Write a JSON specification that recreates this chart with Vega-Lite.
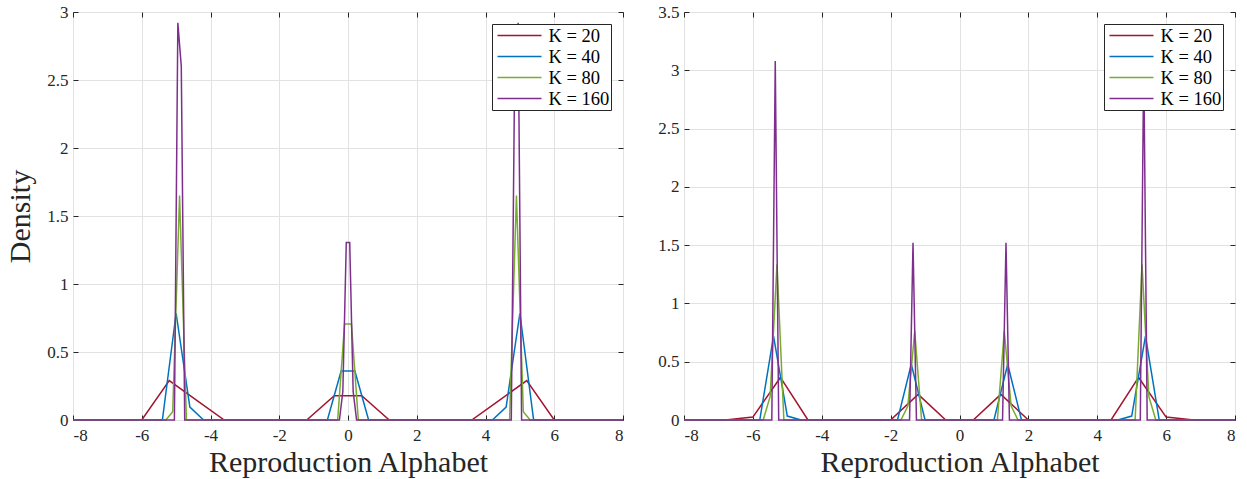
{
  "$schema": "https://vega.github.io/schema/vega-lite/v6.json",
  "background": "white",
  "padding": {"left": 5, "top": 2, "right": 5, "bottom": 5},
  "bounds": "flush",
  "spacing": 61,
  "config": {
    "font": "Liberation Serif",
    "view": {"stroke": "#262626", "strokeWidth": 1},
    "axis": {
      "domain": false,
      "gridColor": "#e2e2e2",
      "gridWidth": 1,
      "tickColor": "#262626",
      "tickSize": -5,
      "tickWidth": 1,
      "labelColor": "#262626",
      "labelFont": "Liberation Serif",
      "labelFontSize": 17,
      "titleFont": "Liberation Serif",
      "titleFontSize": 30,
      "titleFontWeight": "normal",
      "titleColor": "#262626"
    },
    "legend": {
      "orient": "top-right",
      "offset": 12,
      "symbolType": "stroke",
      "symbolSize": 1936,
      "symbolStrokeWidth": 1.5,
      "symbolOffset": 3.5,
      "clipHeight": 21,
      "labelFont": "Liberation Serif",
      "labelFontSize": 18.5,
      "labelColor": "#000000",
      "labelOffset": 6,
      "strokeColor": "#262626",
      "fillColor": "white",
      "padding": 1,
      "rowPadding": 0
    }
  },
  "datasets": {
    "left": [
      {"K": "K = 20", "x": -8, "y": 0}, {"K": "K = 20", "x": -6, "y": 0}, {"K": "K = 20", "x": -5.2, "y": 0.29}, {"K": "K = 20", "x": -4.4, "y": 0.145}, {"K": "K = 20", "x": -3.6, "y": 0},
      {"K": "K = 20", "x": -1.2, "y": 0}, {"K": "K = 20", "x": -0.4, "y": 0.178}, {"K": "K = 20", "x": 0.4, "y": 0.178}, {"K": "K = 20", "x": 1.2, "y": 0},
      {"K": "K = 20", "x": 3.6, "y": 0}, {"K": "K = 20", "x": 4.4, "y": 0.145}, {"K": "K = 20", "x": 5.2, "y": 0.29}, {"K": "K = 20", "x": 6, "y": 0}, {"K": "K = 20", "x": 8, "y": 0},
      {"K": "K = 40", "x": -8, "y": 0}, {"K": "K = 40", "x": -5.4, "y": 0}, {"K": "K = 40", "x": -5.0, "y": 0.785}, {"K": "K = 40", "x": -4.6, "y": 0.095}, {"K": "K = 40", "x": -4.2, "y": 0},
      {"K": "K = 40", "x": -0.6, "y": 0}, {"K": "K = 40", "x": -0.2, "y": 0.36}, {"K": "K = 40", "x": 0.2, "y": 0.36}, {"K": "K = 40", "x": 0.6, "y": 0},
      {"K": "K = 40", "x": 4.2, "y": 0}, {"K": "K = 40", "x": 4.6, "y": 0.095}, {"K": "K = 40", "x": 5.0, "y": 0.785}, {"K": "K = 40", "x": 5.4, "y": 0}, {"K": "K = 40", "x": 8, "y": 0},
      {"K": "K = 80", "x": -8, "y": 0}, {"K": "K = 80", "x": -5.3, "y": 0}, {"K": "K = 80", "x": -5.1, "y": 0.06}, {"K": "K = 80", "x": -4.9, "y": 1.65}, {"K": "K = 80", "x": -4.7, "y": 0},
      {"K": "K = 80", "x": -0.3, "y": 0}, {"K": "K = 80", "x": -0.1, "y": 0.705}, {"K": "K = 80", "x": 0.1, "y": 0.705}, {"K": "K = 80", "x": 0.3, "y": 0},
      {"K": "K = 80", "x": 4.7, "y": 0}, {"K": "K = 80", "x": 4.9, "y": 1.65}, {"K": "K = 80", "x": 5.1, "y": 0.06}, {"K": "K = 80", "x": 5.3, "y": 0}, {"K": "K = 80", "x": 8, "y": 0},
      {"K": "K = 160", "x": -8, "y": 0}, {"K": "K = 160", "x": -5.05, "y": 0}, {"K": "K = 160", "x": -4.95, "y": 2.92}, {"K": "K = 160", "x": -4.85, "y": 2.6}, {"K": "K = 160", "x": -4.75, "y": 0},
      {"K": "K = 160", "x": -0.25, "y": 0}, {"K": "K = 160", "x": -0.15, "y": 0.21}, {"K": "K = 160", "x": -0.05, "y": 1.305}, {"K": "K = 160", "x": 0.05, "y": 1.305}, {"K": "K = 160", "x": 0.15, "y": 0.21}, {"K": "K = 160", "x": 0.25, "y": 0},
      {"K": "K = 160", "x": 4.75, "y": 0}, {"K": "K = 160", "x": 4.85, "y": 2.6}, {"K": "K = 160", "x": 4.95, "y": 2.92}, {"K": "K = 160", "x": 5.05, "y": 0}, {"K": "K = 160", "x": 8, "y": 0}
    ],
    "right": [
      {"K": "K = 20", "x": -8, "y": 0}, {"K": "K = 20", "x": -6.8, "y": 0}, {"K": "K = 20", "x": -6.0, "y": 0.025}, {"K": "K = 20", "x": -5.2, "y": 0.365}, {"K": "K = 20", "x": -4.4, "y": 0},
      {"K": "K = 20", "x": -2.0, "y": 0}, {"K": "K = 20", "x": -1.2, "y": 0.22}, {"K": "K = 20", "x": -0.4, "y": 0}, {"K": "K = 20", "x": 0.4, "y": 0}, {"K": "K = 20", "x": 1.2, "y": 0.22}, {"K": "K = 20", "x": 2.0, "y": 0},
      {"K": "K = 20", "x": 4.4, "y": 0}, {"K": "K = 20", "x": 5.2, "y": 0.365}, {"K": "K = 20", "x": 6.0, "y": 0.025}, {"K": "K = 20", "x": 6.8, "y": 0}, {"K": "K = 20", "x": 8, "y": 0},
      {"K": "K = 40", "x": -8, "y": 0}, {"K": "K = 40", "x": -5.8, "y": 0}, {"K": "K = 40", "x": -5.4, "y": 0.72}, {"K": "K = 40", "x": -5.0, "y": 0.034}, {"K": "K = 40", "x": -4.6, "y": 0},
      {"K": "K = 40", "x": -1.8, "y": 0}, {"K": "K = 40", "x": -1.4, "y": 0.478}, {"K": "K = 40", "x": -1.0, "y": 0}, {"K": "K = 40", "x": 1.0, "y": 0}, {"K": "K = 40", "x": 1.4, "y": 0.478}, {"K": "K = 40", "x": 1.8, "y": 0},
      {"K": "K = 40", "x": 4.6, "y": 0}, {"K": "K = 40", "x": 5.0, "y": 0.034}, {"K": "K = 40", "x": 5.4, "y": 0.72}, {"K": "K = 40", "x": 5.8, "y": 0}, {"K": "K = 40", "x": 8, "y": 0},
      {"K": "K = 80", "x": -8, "y": 0}, {"K": "K = 80", "x": -5.7, "y": 0}, {"K": "K = 80", "x": -5.5, "y": 0.2}, {"K": "K = 80", "x": -5.3, "y": 1.335}, {"K": "K = 80", "x": -5.1, "y": 0},
      {"K": "K = 80", "x": -1.7, "y": 0}, {"K": "K = 80", "x": -1.5, "y": 0.12}, {"K": "K = 80", "x": -1.3, "y": 0.76}, {"K": "K = 80", "x": -1.1, "y": 0}, {"K": "K = 80", "x": 1.1, "y": 0}, {"K": "K = 80", "x": 1.3, "y": 0.76}, {"K": "K = 80", "x": 1.5, "y": 0.12}, {"K": "K = 80", "x": 1.7, "y": 0},
      {"K": "K = 80", "x": 5.1, "y": 0}, {"K": "K = 80", "x": 5.3, "y": 1.335}, {"K": "K = 80", "x": 5.5, "y": 0.2}, {"K": "K = 80", "x": 5.7, "y": 0}, {"K": "K = 80", "x": 8, "y": 0},
      {"K": "K = 160", "x": -8, "y": 0}, {"K": "K = 160", "x": -5.45, "y": 0}, {"K": "K = 160", "x": -5.35, "y": 3.08}, {"K": "K = 160", "x": -5.25, "y": 0},
      {"K": "K = 160", "x": -1.45, "y": 0}, {"K": "K = 160", "x": -1.35, "y": 1.52}, {"K": "K = 160", "x": -1.25, "y": 0}, {"K": "K = 160", "x": 1.25, "y": 0}, {"K": "K = 160", "x": 1.35, "y": 1.52}, {"K": "K = 160", "x": 1.45, "y": 0},
      {"K": "K = 160", "x": 5.25, "y": 0}, {"K": "K = 160", "x": 5.35, "y": 3.08}, {"K": "K = 160", "x": 5.45, "y": 0}, {"K": "K = 160", "x": 8, "y": 0}
    ]
  },
  "resolve": {"scale": {"color": "independent"}, "legend": {"color": "independent"}},
  "hconcat": [
    {
      "width": 550,
      "height": 408,
      "resolve": {"axis": {"x": "independent", "y": "independent"}},
      "layer": [
        {
          "data": {"name": "left"},
          "mark": {"type": "line", "strokeWidth": 1.5},
          "encoding": {
            "x": {"field": "x", "type": "quantitative", "scale": {"domain": [-8, 8], "nice": false, "zero": false},
                  "axis": {"orient": "bottom", "values": [-8, -6, -4, -2, 0, 2, 4, 6, 8], "labelExpr": "'' + datum.value", "labelFont": "Liberation Serif", "labelPadding": 12, "title": "Reproduction Alphabet", "titlePadding": 4}},
            "y": {"field": "y", "type": "quantitative", "scale": {"domain": [0, 3], "nice": false},
                  "axis": {"orient": "left", "values": [0, 0.5, 1, 1.5, 2, 2.5, 3], "labelExpr": "'' + datum.value", "labelFont": "Liberation Serif", "labelPadding": 10, "title": "Density", "titlePadding": 11}},
            "color": {"field": "K", "type": "nominal",
                      "scale": {"domain": ["K = 20", "K = 40", "K = 80", "K = 160"], "range": ["#A2142F", "#0072BD", "#77AC30", "#7E2F8E"]},
                      "legend": {"title": null}}
          }
        },
        {
          "data": {"name": "left"},
          "mark": {"type": "point", "opacity": 0},
          "encoding": {
            "x": {"field": "x", "type": "quantitative", "axis": {"orient": "top", "values": [-8, -6, -4, -2, 0, 2, 4, 6, 8], "labels": false, "grid": false, "title": null}},
            "y": {"field": "y", "type": "quantitative", "axis": {"orient": "right", "values": [0, 0.5, 1, 1.5, 2, 2.5, 3], "labels": false, "grid": false, "title": null}}
          }
        }
      ]
    },
    {
      "width": 551,
      "height": 408,
      "resolve": {"axis": {"x": "independent", "y": "independent"}},
      "layer": [
        {
          "data": {"name": "right"},
          "mark": {"type": "line", "strokeWidth": 1.5},
          "encoding": {
            "x": {"field": "x", "type": "quantitative", "scale": {"domain": [-8, 8], "nice": false, "zero": false},
                  "axis": {"orient": "bottom", "values": [-8, -6, -4, -2, 0, 2, 4, 6, 8], "labelExpr": "'' + datum.value", "labelFont": "Liberation Serif", "labelPadding": 12, "title": "Reproduction Alphabet", "titlePadding": 4}},
            "y": {"field": "y", "type": "quantitative", "scale": {"domain": [0, 3.5], "nice": false},
                  "axis": {"orient": "left", "values": [0, 0.5, 1, 1.5, 2, 2.5, 3, 3.5], "labelExpr": "'' + datum.value", "labelFont": "Liberation Serif", "labelPadding": 10, "title": null}},
            "color": {"field": "K", "type": "nominal",
                      "scale": {"domain": ["K = 20", "K = 40", "K = 80", "K = 160"], "range": ["#A2142F", "#0072BD", "#77AC30", "#7E2F8E"]},
                      "legend": {"title": null}}
          }
        },
        {
          "data": {"name": "right"},
          "mark": {"type": "point", "opacity": 0},
          "encoding": {
            "x": {"field": "x", "type": "quantitative", "axis": {"orient": "top", "values": [-8, -6, -4, -2, 0, 2, 4, 6, 8], "labels": false, "grid": false, "title": null}},
            "y": {"field": "y", "type": "quantitative", "axis": {"orient": "right", "values": [0, 0.5, 1, 1.5, 2, 2.5, 3, 3.5], "labels": false, "grid": false, "title": null}}
          }
        }
      ]
    }
  ]
}
